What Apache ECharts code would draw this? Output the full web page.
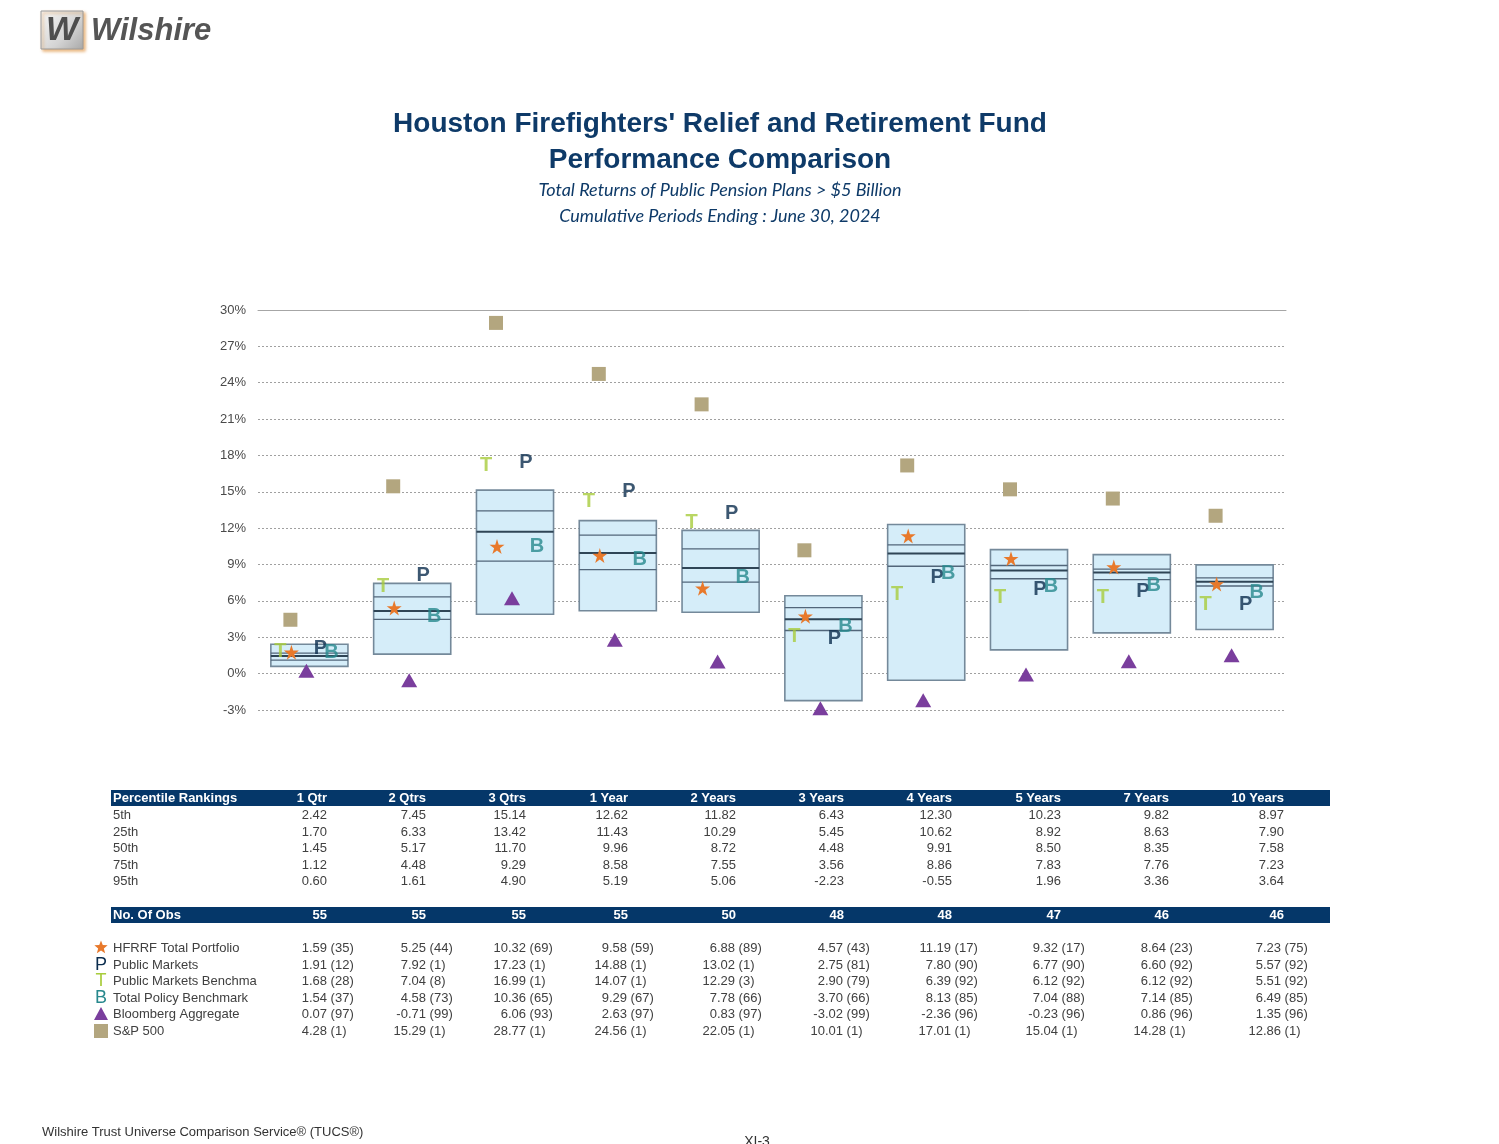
<!DOCTYPE html>
<html>
<head>
<meta charset="utf-8">
<script src="https://cdn.jsdelivr.net/npm/echarts/dist/echarts.min.js"></script>
<style>
html,body{margin:0;padding:0;background:#ffffff;}
#c{width:1499px;height:1144px;}
</style>
</head>
<body>
<div id="c"></div>
<script>
// ---------------- DATA ----------------
const categories = ['1 Qtr','2 Qtrs','3 Qtrs','1 Year','2 Years','3 Years','4 Years','5 Years','7 Years','10 Years'];
const yTicks = [-3,0,3,6,9,12,15,18,21,24,27,30];
const pct5  = [2.42, 7.45, 15.14, 12.62, 11.82, 6.43, 12.30, 10.23, 9.82, 8.97];
const pct25 = [1.70, 6.33, 13.42, 11.43, 10.29, 5.45, 10.62, 8.92, 8.63, 7.90];
const pct50 = [1.45, 5.17, 11.70, 9.96, 8.72, 4.48, 9.91, 8.50, 8.35, 7.58];
const pct75 = [1.12, 4.48, 9.29, 8.58, 7.55, 3.56, 8.86, 7.83, 7.76, 7.23];
const pct95 = [0.60, 1.61, 4.90, 5.19, 5.06, -2.23, -0.55, 1.96, 3.36, 3.64];
const numObs = [55, 55, 55, 55, 50, 48, 48, 47, 46, 46];

const hfrrf      = [1.59, 5.25, 10.32, 9.58, 6.88, 4.57, 11.19, 9.32, 8.64, 7.23];
const hfrrfRank  = [35, 44, 69, 59, 89, 43, 17, 17, 23, 75];
const pubMkt     = [1.91, 7.92, 17.23, 14.88, 13.02, 2.75, 7.80, 6.77, 6.60, 5.57];
const pubMktRank = [12, 1, 1, 1, 1, 81, 90, 90, 92, 92];
const pubBench     = [1.68, 7.04, 16.99, 14.07, 12.29, 2.90, 6.39, 6.12, 6.12, 5.51];
const pubBenchRank = [28, 8, 1, 1, 3, 79, 92, 92, 92, 92];
const policyBench     = [1.54, 4.58, 10.36, 9.29, 7.78, 3.70, 8.13, 7.04, 7.14, 6.49];
const policyBenchRank = [37, 73, 65, 67, 66, 66, 85, 88, 85, 85];
const bbAgg     = [0.07, -0.71, 6.06, 2.63, 0.83, -3.02, -2.36, -0.23, 0.86, 1.35];
const bbAggRank = [97, 99, 93, 97, 97, 99, 96, 96, 96, 96];
const sp500     = [4.28, 15.29, 28.77, 24.56, 22.05, 10.01, 17.01, 15.04, 14.28, 12.86];
const sp500Rank = [1, 1, 1, 1, 1, 1, 1, 1, 1, 1];

const seriesNames = ['HFRRF Total Portfolio','Public Markets','Public Markets Benchma','Total Policy Benchmark','Bloomberg Aggregate','S&P 500'];
const pctLabels = ['5th','25th','50th','75th','95th'];

// ---------------- STYLE ----------------
const FF = '"Liberation Sans", Arial, sans-serif';
const NAVY = '#0E3A68';
const C_STAR = '#E8792B', C_SQ = '#B3A67F', C_TRI = '#7A3E9D', C_T = '#A8CC3C', C_P = '#0B2D4E', C_B = '#27888D';
const STAR = 'path://M50,0 L61.2,34.5 L97.6,34.5 L68.2,55.9 L79.4,90.5 L50,69.1 L20.6,90.5 L31.8,55.9 L2.4,34.5 L38.8,34.5 Z';

const chart = echarts.init(document.getElementById('c'), null, {renderer: 'canvas'});

function shapeSeries(name, vals, symbol, size, color, dx, z) {
  return {
    type: 'scatter', name: name, data: vals.map((v, i) => [i, v]),
    symbol: symbol, symbolSize: size, symbolOffset: [dx, -2],
    itemStyle: {color: color, opacity: 1}, clip: false, silent: true, z: z,
    emphasis: {disabled: true}
  };
}
function letterSeries(name, vals, letter, color, dx, z) {
  return {
    type: 'scatter', name: name, data: vals.map((v, i) => [i, v]),
    symbol: 'rect', symbolSize: 1, itemStyle: {color: 'rgba(0,0,0,0)'},
    label: {show: true, position: 'inside', formatter: letter, color: color,
            fontSize: 20, fontWeight: 'bold', fontFamily: FF, offset: [dx, -2]},
    clip: false, silent: true, z: z, emphasis: {disabled: true}
  };
}

// ---------------- GRAPHIC (header, table, footer) ----------------
const g = [];
function txt(x, y, text, o) {
  const st = Object.assign({text: text, x: x, y: y, fontFamily: FF, fontSize: 13, fill: '#404040',
    align: 'left', textAlign: 'left', verticalAlign: 'middle', textVerticalAlign: 'middle'}, o || {});
  if (o && o.align) st.textAlign = o.align;
  g.push({type: 'text', silent: true, z: 10, style: st});
}
function rect(x, y, w, h, style, z) {
  g.push({type: 'rect', silent: true, z: z || 9, shape: {x: x, y: y, width: w, height: h}, style: style});
}
function starPoints(cx, cy, R, r) {
  const pts = [];
  for (let k = 0; k < 10; k++) {
    const a = -Math.PI / 2 + k * Math.PI / 5;
    const rad = k % 2 === 0 ? R : r;
    pts.push([cx + rad * Math.cos(a), cy + rad * Math.sin(a)]);
  }
  return pts;
}

// logo
rect(41, 11, 42, 38, {
  fill: new echarts.graphic.LinearGradient(0, 0, 1, 1, [{offset: 0, color: '#F7F7F7'}, {offset: 0.6, color: '#D4D4D4'}, {offset: 1, color: '#A8A8A8'}]),
  stroke: '#9A9A9A', lineWidth: 1, shadowColor: 'rgba(225,150,70,0.7)', shadowOffsetX: 2, shadowOffsetY: 2, shadowBlur: 3});
txt(62, 31, 'W', {align: 'center', fontSize: 34, fontWeight: 'bold', fontStyle: 'italic', fill: '#4E4E4E'});
txt(91, 31, 'Wilshire', {fontSize: 31, fontWeight: 'bold', fontStyle: 'italic', fill: '#555555'});

// titles
txt(720, 124, "Houston Firefighters' Relief and Retirement Fund", {align: 'center', fontSize: 28, fontWeight: 'bold', fill: NAVY});
txt(720, 160, 'Performance Comparison', {align: 'center', fontSize: 28, fontWeight: 'bold', fill: NAVY});
txt(720, 190, 'Total Returns of Public Pension Plans > $5 Billion', {align: 'center', fontSize: 18, fontStyle: 'italic', fontFamily: 'Lato, "Open Sans", sans-serif', fill: NAVY});
txt(720, 216, 'Cumulative Periods Ending : June 30, 2024', {align: 'center', fontSize: 18, fontStyle: 'italic', fontFamily: 'Lato, "Open Sans", sans-serif', fill: NAVY});

// table
const colRight = [327, 426, 526, 628, 736, 844, 952, 1061, 1169, 1284];
const valRight = [327, 426, 526, 627, 735, 843, 951, 1058, 1166, 1281];
const HDR = '#053769';
rect(111, 790, 1219, 16, {fill: HDR});
txt(113, 798, 'Percentile Rankings', {fontWeight: 'bold', fill: '#ffffff'});
categories.forEach((c, i) => txt(colRight[i], 798, c, {align: 'right', fontWeight: 'bold', fill: '#ffffff'}));
const pctRows = [pct5, pct25, pct50, pct75, pct95];
const pctY = [815, 832, 848, 865, 881];
pctRows.forEach((row, r) => {
  txt(113, pctY[r], pctLabels[r]);
  row.forEach((v, i) => txt(colRight[i], pctY[r], v.toFixed(2), {align: 'right'}));
});
rect(111, 907, 1219, 16, {fill: HDR});
txt(113, 915, 'No. Of Obs', {fontWeight: 'bold', fill: '#ffffff'});
numObs.forEach((v, i) => txt(colRight[i], 915, String(v), {align: 'right', fontWeight: 'bold', fill: '#ffffff'}));

const rowVals = [hfrrf, pubMkt, pubBench, policyBench, bbAgg, sp500];
const rowRanks = [hfrrfRank, pubMktRank, pubBenchRank, policyBenchRank, bbAggRank, sp500Rank];
const rowY = [948, 965, 981, 998, 1014, 1031];
rowVals.forEach((vals, r) => {
  txt(113, rowY[r], seriesNames[r]);
  vals.forEach((v, i) => {
    txt(valRight[i], rowY[r], v.toFixed(2), {align: 'right'});
    txt(valRight[i], rowY[r], ' (' + rowRanks[r][i] + ')', {align: 'left'});
  });
});
// legend icons in table
g.push({type: 'polygon', silent: true, z: 10, shape: {points: starPoints(101, 947.5, 7, 3)}, style: {fill: C_STAR}});
txt(101, 965, 'P', {align: 'center', fontSize: 18, fill: C_P});
txt(101, 981, 'T', {align: 'center', fontSize: 18, fill: C_T});
txt(101, 998, 'B', {align: 'center', fontSize: 18, fill: C_B});
g.push({type: 'polygon', silent: true, z: 10, shape: {points: [[101, 1007], [108, 1020], [94, 1020]]}, style: {fill: C_TRI}});
rect(94, 1024, 14, 14, {fill: C_SQ}, 10);

// footer
txt(42, 1132, 'Wilshire Trust Universe Comparison Service® (TUCS®)', {fontSize: 13, fill: '#333333'});
txt(757, 1142, 'XI-3', {align: 'center', fontSize: 14, fill: '#333333'});

// ---------------- OPTION ----------------
const option = {
  backgroundColor: '#ffffff',
  animation: false,
  grid: {left: 258, right: 213, top: 310, bottom: 434, containLabel: false},
  xAxis: {
    type: 'category', data: categories, position: 'top', boundaryGap: true,
    axisLine: {show: true, onZero: false, lineStyle: {color: '#A6A6A6', width: 1}},
    axisTick: {show: false}, axisLabel: {show: false}, splitLine: {show: false}
  },
  yAxis: {
    type: 'value', min: yTicks[0], max: yTicks[yTicks.length - 1], interval: 3,
    axisLine: {show: false}, axisTick: {show: false},
    axisLabel: {formatter: '{value}%', color: '#4A4A4A', fontSize: 13, fontFamily: FF, margin: 12},
    splitLine: {show: true, lineStyle: {color: '#A0A0A0', type: [2, 2], width: 1}}
  },
  graphic: {elements: g},
  series: [
    {
      type: 'custom', name: 'Percentiles', silent: true, z: 2,
      data: categories.map((c, i) => [i, pct5[i], pct25[i], pct50[i], pct75[i], pct95[i]]),
      encode: {x: 0, y: [1, 2, 3, 4, 5]},
      renderItem: function (params, api) {
        const i = api.value(0);
        const w = api.size([1, 0])[0] * 0.75;
        const cx = api.coord([i, 0])[0];
        const yy = k => api.coord([i, api.value(k)])[1];
        const top = yy(1), q1 = yy(2), med = yy(3), q3 = yy(4), bot = yy(5);
        const x0 = cx - w / 2, x1 = cx + w / 2;
        return {
          type: 'group',
          children: [
            {type: 'rect', shape: {x: x0, y: top, width: w, height: bot - top},
             style: {fill: '#D5EDF9', stroke: '#74899A', lineWidth: 1.6}},
            {type: 'line', shape: {x1: x0, y1: q1, x2: x1, y2: q1}, style: {stroke: '#52667A', lineWidth: 1.3}},
            {type: 'line', shape: {x1: x0, y1: q3, x2: x1, y2: q3}, style: {stroke: '#52667A', lineWidth: 1.3}},
            {type: 'line', shape: {x1: x0, y1: med, x2: x1, y2: med}, style: {stroke: '#2F4556', lineWidth: 2}}
          ]
        };
      }
    },
    shapeSeries('S&P 500', sp500, 'rect', 14, C_SQ, -19, 3),
    shapeSeries('Bloomberg Aggregate', bbAgg, 'triangle', [16, 14], C_TRI, -3, 3),
    shapeSeries('HFRRF Total Portfolio', hfrrf, STAR, 15, C_STAR, -18, 4),
    letterSeries('Public Markets Benchmark', pubBench, 'T', C_T, -29, 5),
    letterSeries('Public Markets', pubMkt, 'P', C_P, 11, 6),
    letterSeries('Total Policy Benchmark', policyBench, 'B', C_B, 22, 7)
  ]
};
chart.setOption(option);
</script>
</body>
</html>
